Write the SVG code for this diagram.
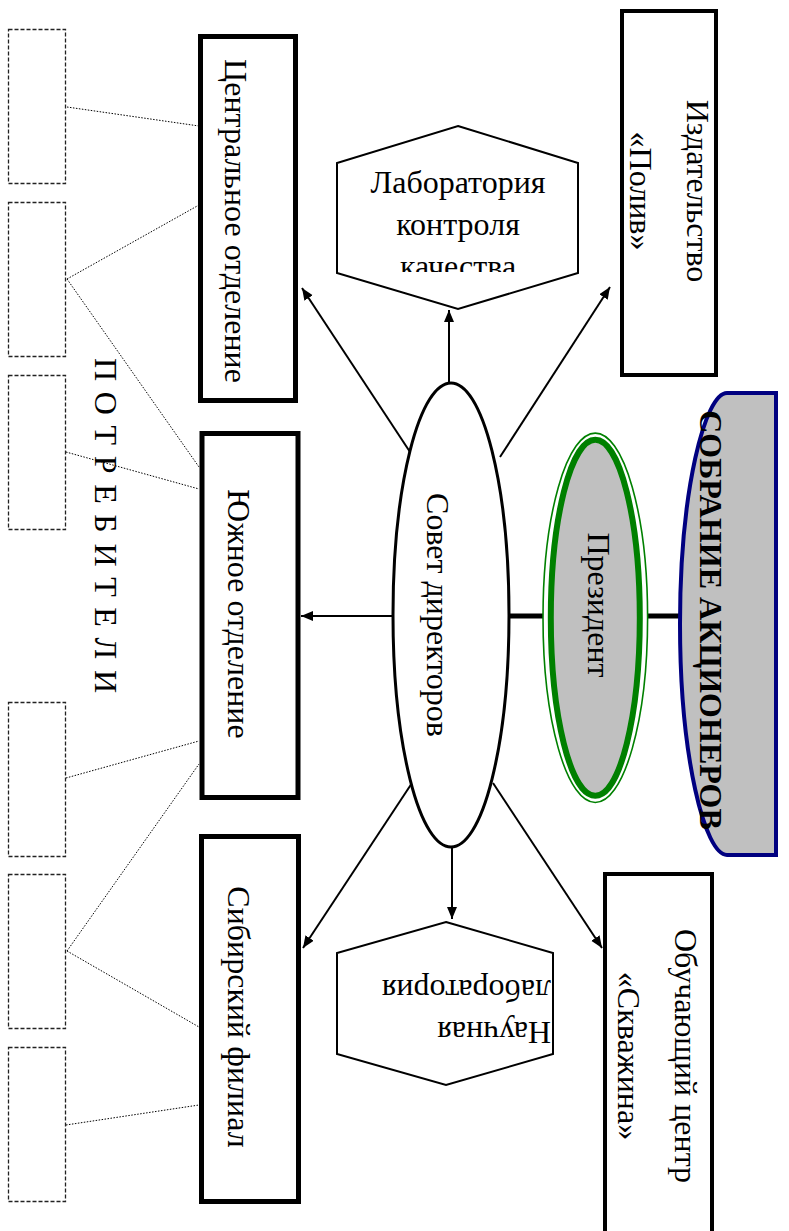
<svg xmlns="http://www.w3.org/2000/svg" width="789" height="1231" viewBox="0 0 789 1231">
<style>
text{font-family:"Liberation Serif","Times New Roman",serif;font-size:32px;fill:#000}
.box{fill:#fff;stroke:#000;stroke-width:5}
.box4{fill:#fff;stroke:#000;stroke-width:4}
.hex{fill:#fff;stroke:#000;stroke-width:2}
.cons{fill:#fff;stroke:#222;stroke-width:1.3;stroke-dasharray:4 2}
.dot{fill:none;stroke:#000;stroke-width:1;stroke-dasharray:1.5 1.5}
.arr{fill:none;stroke:#000;stroke-width:2;marker-end:url(#ah)}
.thick{fill:none;stroke:#000;stroke-width:5}
</style>
<defs>
<marker id="ah" markerUnits="userSpaceOnUse" markerWidth="13" markerHeight="11" refX="12" refY="5" orient="auto">
<path d="M0,0 L12,5 L0,10 Z" fill="#000"/>
</marker>
<clipPath id="clipLab"><rect x="337" y="126" width="241" height="146"/></clipPath>
</defs>

<g id="consumers">
<rect class="cons" x="8.5" y="29.5" width="57" height="154"/>
<rect class="cons" x="8.5" y="202.5" width="57" height="154"/>
<rect class="cons" x="8.5" y="375.5" width="57" height="154"/>
<rect class="cons" x="8.5" y="702.5" width="57" height="154"/>
<rect class="cons" x="8.5" y="874.5" width="57" height="154"/>
<rect class="cons" x="8.5" y="1047.5" width="57" height="154"/>
<text transform="translate(95,358) rotate(90)" textLength="335" lengthAdjust="spacing">П О Т Р Е Б И Т Е Л И</text>
</g>

<g id="connectors">
<line class="dot" x1="67" y1="107" x2="199" y2="126"/>
<line class="dot" x1="67" y1="279" x2="199" y2="205"/>
<line class="dot" x1="67" y1="279" x2="199" y2="467"/>
<line class="dot" x1="66" y1="452" x2="199" y2="489"/>
<line class="dot" x1="66" y1="778" x2="199" y2="741"/>
<line class="dot" x1="67" y1="951" x2="199" y2="764"/>
<line class="dot" x1="67" y1="951" x2="199" y2="1027"/>
<line class="dot" x1="66" y1="1125" x2="199" y2="1105"/>
<line class="arr" x1="449" y1="383" x2="449" y2="310"/>
<line class="arr" x1="412" y1="455" x2="302" y2="288"/>
<line class="arr" x1="500" y1="457" x2="610" y2="287"/>
<line class="arr" x1="393" y1="616" x2="301" y2="616"/>
<line class="arr" x1="412" y1="783" x2="303" y2="948"/>
<line class="arr" x1="452" y1="847" x2="452" y2="919"/>
<line class="arr" x1="493" y1="783" x2="602" y2="948"/>
<line class="thick" x1="509" y1="616" x2="549" y2="616"/>
<line class="thick" x1="641" y1="616" x2="682" y2="616"/>
</g>

<g id="central">
<rect class="box" x="200.5" y="36.5" width="95" height="364"/>
<text transform="translate(225,221) rotate(90)" text-anchor="middle">Центральное отделение</text>
</g>

<g id="south">
<rect class="box" x="202" y="433.5" width="96" height="364"/>
<text transform="translate(228,614) rotate(90)" text-anchor="middle">Южное отделение</text>
</g>

<g id="siberia">
<rect class="box" x="201.5" y="836.5" width="97" height="365"/>
<text transform="translate(228,1017) rotate(90)" text-anchor="middle">Сибирский филиал</text>
</g>

<g id="publisher">
<rect class="box4" x="622" y="11" width="94" height="364"/>
<text transform="translate(687,191) rotate(90)" text-anchor="middle">Издательство</text>
<text transform="translate(630,191) rotate(90)" text-anchor="middle">«Полив»</text>
</g>

<g id="training">
<rect class="box4" x="605" y="874" width="107" height="400"/>
<text transform="translate(675,1056) rotate(90)" text-anchor="middle">Обучающий центр</text>
<text transform="translate(618,1056) rotate(90)" text-anchor="middle">«Скважина»</text>
</g>

<g id="lab-quality">
<polygon class="hex" points="458,126 578,163 578,273 458,309 337,273 337,163"/>
<g clip-path="url(#clipLab)">
<text x="458" y="193" text-anchor="middle">Лаборатория</text>
<text x="458" y="235" text-anchor="middle">контроля</text>
<text x="458" y="277" text-anchor="middle">качества</text>
</g>
</g>

<g id="lab-science">
<polygon class="hex" points="446,922 553,953 553,1054 446,1085 337,1054 337,953"/>
<g transform="translate(551,1022) rotate(180)">
<text x="0" y="0">Научная</text>
<text x="0" y="42">лаборатория</text>
</g>
</g>

<g id="board">
<ellipse cx="451" cy="615" rx="58" ry="232" fill="#fff" stroke="#000" stroke-width="3"/>
<text transform="translate(427,615) rotate(90)" text-anchor="middle">Совет директоров</text>
</g>

<g id="president">
<ellipse cx="595.3" cy="617.8" rx="52.3" ry="184.7" fill="#fff" stroke="#008000" stroke-width="1.6"/>
<ellipse cx="595.3" cy="617.8" rx="44.5" ry="178" fill="#c0c0c0" stroke="#008000" stroke-width="6"/>
<text transform="translate(588,605) rotate(90)" text-anchor="middle">Президент</text>
</g>

<g id="shareholders">
<path d="M776,393 L727,393 C705,393 680,490 680,624 C680,758 705,855 727,855 L776,855 Z" fill="#c0c0c0" stroke="#000080" stroke-width="4"/>
<text transform="translate(700,620) rotate(90)" text-anchor="middle" font-weight="bold">СОБРАНИЕ АКЦИОНЕРОВ</text>
</g>
</svg>
